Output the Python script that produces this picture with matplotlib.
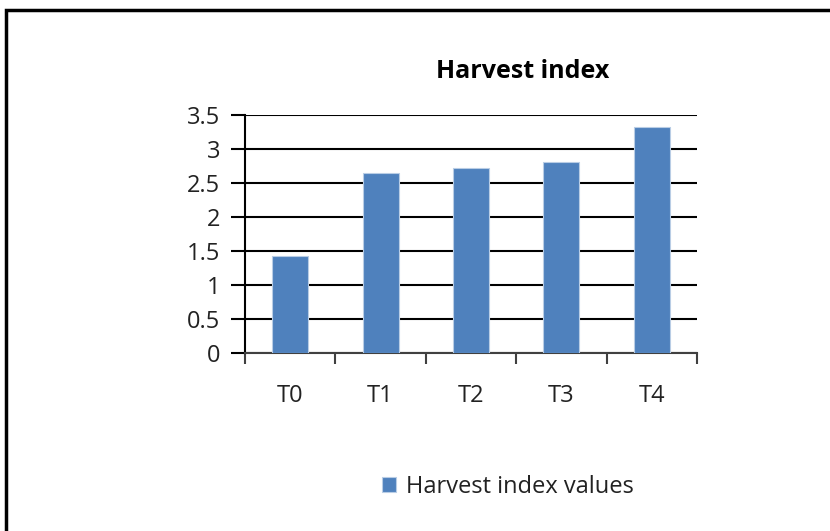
import matplotlib
matplotlib.use("Agg")
import matplotlib.pyplot as plt
from matplotlib.patches import Rectangle
import numpy as np

categories = ["T0", "T1", "T2", "T3", "T4"]
values = [1.43, 2.64, 2.72, 2.81, 3.32]
yticks = [0, 0.5, 1, 1.5, 2, 2.5, 3, 3.5]
ytick_labels = ["0", "0.5", "1", "1.5", "2", "2.5", "3", "3.5"]
title = "Harvest index"
series_name = "Harvest index values"

plt.rcParams['font.family'] = ['Open Sans', 'DejaVu Sans']

W, H = 830, 531
fig = plt.figure(figsize=(W/100, H/100), dpi=100)
ax = fig.add_axes([245/W, 1-353/H, (697-245)/W, (353-114.7)/H])

x = np.arange(len(categories))
ax.bar(x, values, width=0.4, color="#4F81BD", edgecolor="#B9CDE5", linewidth=0.8,
       label=series_name, zorder=3)

ax.set_xlim(-0.5, len(categories)-0.5)
ax.set_ylim(0, 3.5)
ax.set_yticks(yticks)
ax.set_yticklabels(ytick_labels)
ax.set_xticks(x)
ax.set_xticklabels(categories)
ax.set_xticks(np.arange(-0.5, len(categories)), minor=True)
ax.tick_params(axis='x', which='major', length=0, pad=22, labelsize=17, colors='#222222')
ax.tick_params(axis='x', which='minor', length=8, width=1.5, direction='out', color='#404040')
ax.tick_params(axis='y', which='major', length=10, width=1.5, direction='out', pad=8,
               labelsize=17, color='black', labelcolor='#222222')

ax.grid(axis='y', color='black', linewidth=1.5, zorder=1)
for s in ['top', 'right']:
    ax.spines[s].set_visible(False)
ax.spines['left'].set_linewidth(1.5)
ax.spines['bottom'].set_linewidth(1.5)
ax.spines['bottom'].set_color('#404040')

fig.text(523/W, 1-71/H, title, ha='center', va='center', fontsize=18, fontweight='bold')

fig.legend(loc='center left', bbox_to_anchor=(361/W, 1-487/H), frameon=False,
           handlelength=0.6, handleheight=0.6, handletextpad=0.4, fontsize=17,
           labelcolor='#222222')

fig.add_artist(Rectangle((6/W, -0.1), 1.0, 1.1 - 10/H, fill=False, lw=2.5,
                         edgecolor='black', transform=fig.transFigure))

fig.savefig("out.png", dpi=100)
